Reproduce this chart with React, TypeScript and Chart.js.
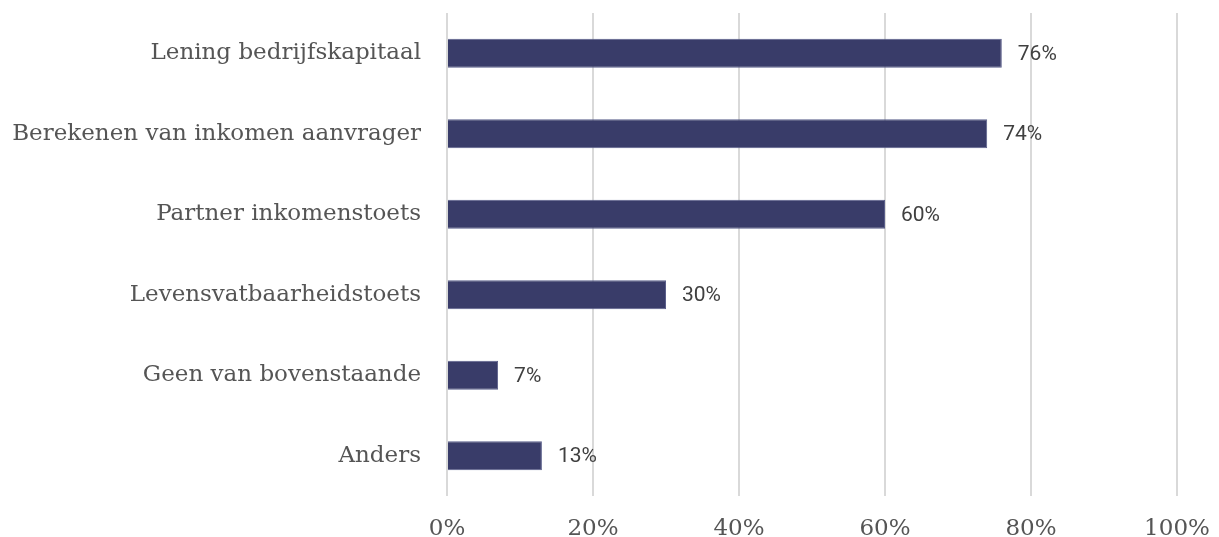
import React, { useEffect, useRef } from "react";
import { Chart, registerables } from "chart.js";

Chart.register(...registerables);

const categories = [
  "Lening bedrijfskapitaal",
  "Berekenen van inkomen aanvrager",
  "Partner inkomenstoets",
  "Levensvatbaarheidstoets",
  "Geen van bovenstaande",
  "Anders",
];
const values = [76, 74, 60, 30, 7, 13];
const xTicks = [0, 20, 40, 60, 80, 100];

const valueLabels = {
  id: "valueLabels",
  afterDatasetsDraw(chart: any) {
    const ctx = chart.ctx;
    const meta = chart.getDatasetMeta(0);
    ctx.save();
    ctx.font = "21px Roboto";
    ctx.fillStyle = "#404040";
    ctx.textAlign = "left";
    ctx.textBaseline = "middle";
    meta.data.forEach((bar: any, i: number) => {
      ctx.fillText(values[i] + "%", bar.x + 16, bar.y + 1);
    });
    ctx.restore();
  },
};

export default function App() {
  const ref = useRef<HTMLCanvasElement>(null);
  useEffect(() => {
    document.body.style.margin = "0";
    const chart = new Chart(ref.current!, {
      type: "bar",
      data: {
        labels: categories,
        datasets: [
          {
            data: values,
            backgroundColor: "#393c69",
            borderColor: "#5a5e8a",
            borderWidth: 1,
            barPercentage: 0.36,
            categoryPercentage: 1,
          },
        ],
      },
      options: {
        indexAxis: "y",
        animation: false,
        responsive: false,
        layout: { padding: { top: 13, right: 42, left: 0, bottom: 0 } },
        plugins: { legend: { display: false }, tooltip: { enabled: false } },
        scales: {
          x: {
            min: 0,
            max: 100,
            afterBuildTicks: (scale: any) => {
              scale.ticks = xTicks.map((v) => ({ value: v }));
            },
            afterFit: (scale: any) => {
              scale.height = 41;
              scale.paddingLeft = 0;
              scale.paddingRight = 0;
            },
            grid: { color: "#d9d9d9", lineWidth: 2, drawTicks: false },
            border: { display: false },
            ticks: {
              padding: 19,
              color: "#555555",
              font: { family: "DejaVu Serif", size: 23 },
              callback: (v: any) => v + "%",
            },
          },
          y: {
            afterFit: (scale: any) => {
              scale.width = 447;
              scale.paddingTop = 0;
              scale.paddingBottom = 0;
            },
            grid: { display: false, drawTicks: false },
            border: { display: false },
            ticks: {
              padding: 26,
              color: "#555555",
              font: { family: "DejaVu Serif", size: 23 },
            },
          },
        },
      },
      plugins: [valueLabels],
    });
    return () => chart.destroy();
  }, []);
  return <canvas ref={ref} width={1219} height={537} style={{ display: "block" }} />;
}
